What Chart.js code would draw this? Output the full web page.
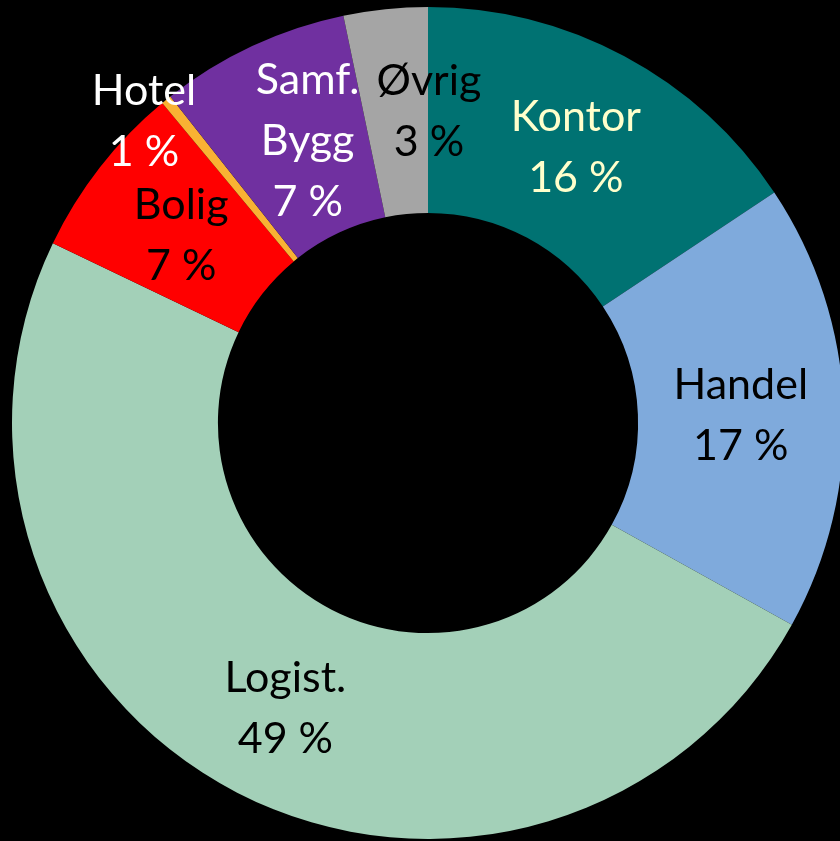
<!DOCTYPE html>
<html>
<head>
<meta charset="utf-8">
<script src="https://cdn.jsdelivr.net/npm/chart.js@4"></script>
<style>
  html, body { margin: 0; padding: 0; background: #000; overflow: hidden; }
  #c { position: absolute; left: 0; top: 0; }
</style>
</head>
<body>
<canvas id="c" width="856" height="846"></canvas>
<script>
// ---- data ----
const categories = ['Kontor', 'Handel', 'Logist.', 'Bolig', 'Hotel', 'Samf. Bygg', 'Øvrig'];
const shares = [15.65, 17.4, 49.05, 6.85, 0.4, 7.37, 3.26];
const percentLabels = ['16 %', '17 %', '49 %', '7 %', '1 %', '7 %', '3 %'];

// ---- style ----
const sliceColors = ['#007272', '#7FAADC', '#A3D0B8', '#FF0000', '#F9B233', '#7030A0', '#A5A5A5'];
const textColors = ['#FFFFCC', '#000000', '#000000', '#000000', '#FFFFFF', '#FFFFFF', '#000000'];
const labelShift = [[0, 1], [0, 5], [1, 7], [0, 5], [-87, -58], [12, 2], [33, 0]];
const lineGap = 61;

const labelPlugin = {
  id: 'sliceLabels',
  afterDatasetsDraw(chart) {
    const ctx = chart.ctx;
    const meta = chart.getDatasetMeta(0);
    ctx.save();
    ctx.font = '43px Lato';
    ctx.textAlign = 'center';
    ctx.textBaseline = 'middle';
    meta.data.forEach((arc, i) => {
      const p = arc.getProps(['x', 'y', 'startAngle', 'endAngle', 'innerRadius', 'outerRadius']);
      const a = (p.startAngle + p.endAngle) / 2;
      const r = (p.innerRadius + p.outerRadius) / 2;
      const cx = p.x + Math.cos(a) * r + labelShift[i][0];
      const cy = p.y + Math.sin(a) * r + labelShift[i][1];
      const name = categories[i] === 'Samf. Bygg' ? ['Samf.', 'Bygg'] : [categories[i]];
      const all = name.concat([percentLabels[i]]);
      const top = cy - (all.length - 1) * lineGap / 2;
      ctx.fillStyle = textColors[i];
      all.forEach((t, k) => ctx.fillText(t, cx, top + k * lineGap));
    });
    ctx.restore();
  }
};

new Chart(document.getElementById('c'), {
  type: 'doughnut',
  data: {
    labels: categories,
    datasets: [{
      data: shares,
      backgroundColor: sliceColors,
      borderWidth: 0,
      hoverOffset: 0
    }]
  },
  options: {
    responsive: false,
    animation: false,
    events: [],
    cutout: '50.5%',
    layout: { padding: 7 },
    plugins: {
      legend: { display: false },
      tooltip: { enabled: false }
    }
  },
  plugins: [labelPlugin]
});
</script>
</body>
</html>
